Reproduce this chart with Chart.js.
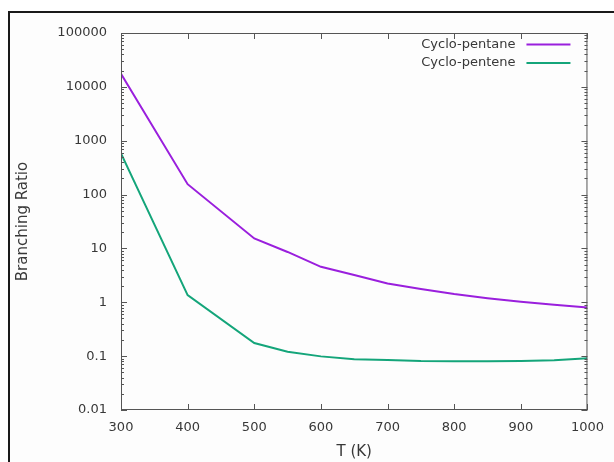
<!DOCTYPE html>
<html>
<head>
<meta charset="utf-8">
<script src="https://cdn.jsdelivr.net/npm/chart.js@4"></script>
<style>
  html, body { margin:0; padding:0; background:#ffffff; }
  #wrap { position:relative; width:614px; height:462px; overflow:hidden; }
  #box { position:absolute; left:8px; top:11px; width:800px; height:600px;
         border-left:2px solid #1a1a1a; border-top:2px solid #1a1a1a; background:#fdfdfd; }
  canvas { position:absolute; left:0; top:0; }
</style>
</head>
<body>
<div id="wrap">
  <div id="box"></div>
  <canvas id="c" width="614" height="462"></canvas>
</div>
<script>
// ---- data ----
const temps    = [300, 400, 500, 550, 600, 650, 700, 750, 800, 850, 900, 950, 1000];
const pentane  = [17500, 156, 15.3, 8.6, 4.56, 3.2, 2.24, 1.76, 1.42, 1.19, 1.02, 0.90, 0.80];
const pentene  = [580, 1.36, 0.175, 0.121, 0.099, 0.088, 0.085, 0.081, 0.080, 0.080, 0.081, 0.084, 0.091];
const seriesNames = ['Cyclo-pentane', 'Cyclo-pentene'];
const yTickValues = [0.01, 0.1, 1, 10, 100, 1000, 10000, 100000];
const yTickLabels = ['0.01', '0.1', '1', '10', '100', '1000', '10000', '100000'];
const xTickValues = [300, 400, 500, 600, 700, 800, 900, 1000];
const xTickLabels = ['300', '400', '500', '600', '700', '800', '900', '1000'];

const FONT = 'DejaVu Sans';
const TEXT = '#383838';
const AXIS = '#555555';

const frameTicks = {
  id: 'frameTicks',
  afterDatasetsDraw(chart) {
    const { ctx, chartArea: { left, right, top, bottom }, scales: { x, y } } = chart;
    ctx.save();
    ctx.strokeStyle = AXIS;
    ctx.lineWidth = 1;
    ctx.beginPath();
    xTickValues.forEach(v => {
      const px = Math.round(x.getPixelForValue(v)) + 0.5;
      ctx.moveTo(px, bottom); ctx.lineTo(px, bottom - 6);
      ctx.moveTo(px, top); ctx.lineTo(px, top + 6);
    });
    yTickValues.forEach((v, i) => {
      const py = Math.round(y.getPixelForValue(v)) + 0.5;
      ctx.moveTo(left, py); ctx.lineTo(left + 6, py);
      ctx.moveTo(right, py); ctx.lineTo(right - 6, py);
      if (i < yTickValues.length - 1) {
        for (let m = 2; m <= 9; m++) {
          const pm = Math.round(y.getPixelForValue(v * m)) + 0.5;
          ctx.moveTo(left, pm); ctx.lineTo(left + 3, pm);
          ctx.moveTo(right, pm); ctx.lineTo(right - 3, pm);
        }
      }
    });
    ctx.stroke();
    ctx.strokeRect(left + 0.5, top + 0.5, right - left - 1, bottom - top - 1);
    // legend
    ctx.font = '13px "' + FONT + '"';
    ctx.textAlign = 'right';
    ctx.textBaseline = 'middle';
    chart.data.datasets.forEach((ds, i) => {
      const ly = top + 11.5 + i * 18.5;
      ctx.fillStyle = TEXT;
      ctx.fillText(ds.label, right - 72, ly);
      ctx.strokeStyle = ds.borderColor;
      ctx.lineWidth = 2;
      ctx.beginPath();
      ctx.moveTo(right - 61, ly); ctx.lineTo(right - 17, ly);
      ctx.stroke();
    });
    ctx.restore();
  }
};

new Chart(document.getElementById('c'), {
  type: 'line',
  data: {
    datasets: [
      { label: seriesNames[0], data: temps.map((t, i) => ({ x: t, y: pentane[i] })),
        borderColor: '#9a1fdd', borderWidth: 2, pointRadius: 0, tension: 0, fill: false },
      { label: seriesNames[1], data: temps.map((t, i) => ({ x: t, y: pentene[i] })),
        borderColor: '#14a57a', borderWidth: 2, pointRadius: 0, tension: 0, fill: false }
    ]
  },
  options: {
    responsive: false,
    animation: false,
    layout: { padding: { left: 0, right: 26, top: 33, bottom: 0 } },
    plugins: { legend: { display: false }, tooltip: { enabled: false } },
    scales: {
      x: {
        type: 'linear', min: 300, max: 1000,
        border: { display: false },
        grid: { display: false, drawTicks: false },
        afterBuildTicks: s => { s.ticks = xTickValues.map(v => ({ value: v })); },
        afterFit: s => { s.height = 52; },
        ticks: { color: TEXT, font: { family: FONT, size: 13 }, padding: 10, maxRotation: 0, autoSkip: false,
                 callback: (v) => { const k = xTickValues.indexOf(v); return k >= 0 ? xTickLabels[k] : ''; } },
        title: { display: true, text: 'T (K)', color: TEXT, font: { family: FONT, size: 15 }, padding: { top: 0, bottom: 1 } }
      },
      y: {
        type: 'logarithmic', min: 0.01, max: 100000,
        border: { display: false },
        grid: { display: false, drawTicks: false },
        afterBuildTicks: s => { s.ticks = yTickValues.map(v => ({ value: v })); },
        afterFit: s => { s.width = 121; },
        ticks: { color: TEXT, font: { family: FONT, size: 13 }, padding: 14, autoSkip: false,
                 callback: (v) => { const k = yTickValues.indexOf(v); return k >= 0 ? yTickLabels[k] : ''; } },
        title: { display: true, text: 'Branching Ratio', color: TEXT, font: { family: FONT, size: 15 }, padding: { top: 14, bottom: 0 } }
      }
    }
  },
  plugins: [frameTicks]
});
</script>
</body>
</html>
